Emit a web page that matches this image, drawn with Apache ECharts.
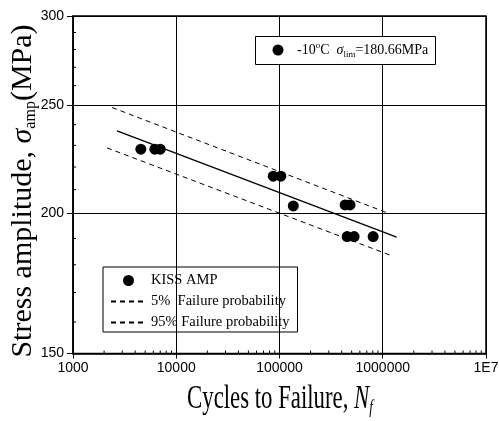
<!DOCTYPE html>
<html><head><meta charset="utf-8">
<script src="https://cdn.jsdelivr.net/npm/echarts@6/dist/echarts.min.js"></script>
<style>html,body{margin:0;padding:0;background:#fff}#c{width:499px;height:421px}</style>
</head><body><div id="c"></div>
<script>
// ---- data ----
const cycles = [4540, 6200, 7000, 87000, 103000, 136000, 432000, 482000, 452000, 528000, 807000];
const stress = [228.2, 228.2, 228.2, 215.9, 215.9, 203.1, 203.5, 203.5, 190.7, 190.7, 190.7];
const fitCycles = [2670, 1364000];
const fitStress = [236.9, 190.5];
const p95Cycles = [2390, 1128000];
const p95Stress = [248.6, 200.1];
const p5Cycles = [2137, 1253000];
const p5Stress = [228.8, 183.2];
const yTickValues = [150, 200, 250, 300];
const yMinorTicks = [160, 170, 180, 190, 210, 220, 230, 240, 260, 270, 280, 290];
const xMinorTicks = [2000,3000,4000,5000,6000,7000,8000,9000,
  20000,30000,40000,50000,60000,70000,80000,90000,
  200000,300000,400000,500000,600000,700000,800000,900000,
  2000000,3000000,4000000,5000000,6000000,7000000,8000000,9000000];
const legendNames = ['KISS AMP', '5%  Failure probability', '95% Failure probability'];

const pairs = (xs, ys) => xs.map((x, i) => [x, ys[i]]);
const serif = 'Liberation Serif';
const narrow = '"Liberation Sans Narrow", "Arial Narrow", "Liberation Sans"';

const chart = echarts.init(document.getElementById('c'), null, {renderer: 'canvas'});
chart.setOption({
  animation: false,
  backgroundColor: '#fff',
  grid: {left: 73, right: 13, top: 16, bottom: 67.5, outerBoundsMode: 'none', containLabel: false,
    show: true, borderColor: '#000', borderWidth: 1.5, backgroundColor: 'transparent'},
  xAxis: {
    type: 'log', logBase: 10, min: 1000, max: 10000000,
    axisLine: {lineStyle: {color: '#000', width: 1.5}},
    axisTick: {inside: false, length: 5, lineStyle: {color: '#000', width: 1}},
    axisLabel: {fontFamily: narrow, fontSize: 14, color: '#000', margin: 8,
      formatter: v => v >= 10000000 ? '1E7' : String(Math.round(v))},
    splitLine: {show: true, lineStyle: {color: '#000', width: 1}}
  },
  yAxis: {
    type: 'log', logBase: 10, min: 150, max: 300,
    axisLine: {lineStyle: {color: '#000', width: 1.5}},
    axisTick: {inside: false, length: 6, lineStyle: {color: '#000', width: 1}, customValues: yTickValues},
    axisLabel: {fontFamily: narrow, fontSize: 14, color: '#000', margin: 9, customValues: yTickValues},
    splitLine: {show: true, lineStyle: {color: '#000', width: 1}}
  },
  legend: {
    data: [
      {name: legendNames[0]},
      {name: legendNames[1], itemStyle: {opacity: 0}},
      {name: legendNames[2], itemStyle: {opacity: 0}}
    ],
    orient: 'vertical', left: 103, top: 267,
    borderColor: '#000', borderWidth: 1, borderRadius: 0,
    padding: [6, 8, 2, 7],
    itemWidth: 35, itemHeight: 11, itemGap: 6,
    selectedMode: false,
    textStyle: {fontFamily: serif, fontSize: 14.5, color: '#000'}
  },
  graphic: [
    {type: 'rect', left: 255, top: 36, shape: {width: 180, height: 28}, style: {fill: '#fff', stroke: '#000', lineWidth: 1}, z: 100},
    {type: 'circle', shape: {cx: 278, cy: 50, r: 5.5}, style: {fill: '#000'}, z: 101},
    {type: 'text', x: 297, y: 50, z: 101, style: {
      text: '{t|-10}{sup|o}{t|C  }{s|σ}{sub|lim}{t|=180.66MPa}',
      verticalAlign: 'middle',
      rich: {
        t: {fontFamily: serif, fontSize: 14, fill: '#000'},
        sup: {fontFamily: serif, fontSize: 9, fill: '#000', padding: [0, 0, 8, 0]},
        s: {fontFamily: serif, fontSize: 14, fontStyle: 'italic', fill: '#000'},
        sub: {fontFamily: serif, fontSize: 9, fill: '#000', padding: [9, 0, 0, 0]}
      }
    }},
    {type: 'text', x: 280, y: 399, scaleX: 0.69, z: 101, style: {
      text: '{t|Cycles to Failure, }{n|N}{sub|f}',
      align: 'center', verticalAlign: 'middle',
      rich: {
        t: {fontFamily: serif, fontSize: 33, fill: '#000'},
        n: {fontFamily: serif, fontSize: 33, fontStyle: 'italic', fill: '#000'},
        sub: {fontFamily: serif, fontSize: 19, fontStyle: 'italic', fill: '#000', padding: [18, 0, 0, 0]}
      }
    }},
    {type: 'text', x: 23, y: 191, rotation: Math.PI / 2, z: 101, style: {
      text: '{t|Stress amplitude, }{s|σ}{sub|amp}{t|(MPa)}',
      align: 'center', verticalAlign: 'middle',
      rich: {
        t: {fontFamily: serif, fontSize: 30, fill: '#000'},
        s: {fontFamily: serif, fontSize: 30, fontStyle: 'italic', fill: '#000'},
        sub: {fontFamily: serif, fontSize: 16, fill: '#000', padding: [15, 0, 0, 0]}
      }
    }}
  ],
  series: [
    {name: 'KISS AMP', type: 'scatter', symbol: 'circle', symbolSize: 11, itemStyle: {color: '#000', opacity: 1}, data: pairs(cycles, stress), z: 4},
    {name: 'fit', type: 'line', symbol: 'none', lineStyle: {color: '#000', width: 1.3}, data: pairs(fitCycles, fitStress), z: 3},
    {name: legendNames[1], type: 'line', symbol: 'none', itemStyle: {color: '#000'}, lineStyle: {color: '#000', width: 1, type: [5, 4]}, data: pairs(p5Cycles, p5Stress), z: 3},
    {name: legendNames[2], type: 'line', symbol: 'none', itemStyle: {color: '#000'}, lineStyle: {color: '#000', width: 1, type: [5, 4]}, data: pairs(p95Cycles, p95Stress), z: 3},
    {type: 'custom', silent: true, z: 5, data: xMinorTicks.map(v => [v, 150]),
      renderItem: (p, api) => { const c = api.coord([api.value(0), api.value(1)]);
        return {type: 'line', shape: {x1: c[0], y1: c[1], x2: c[0], y2: c[1] - 3}, style: {stroke: '#000', lineWidth: 1}}; }},
    {type: 'custom', silent: true, z: 5, data: yMinorTicks.map(v => [1000, v]),
      renderItem: (p, api) => { const c = api.coord([api.value(0), api.value(1)]);
        return {type: 'line', shape: {x1: c[0], y1: c[1], x2: c[0] + 3, y2: c[1]}, style: {stroke: '#000', lineWidth: 1}}; }}
  ]
});
</script></body></html>
